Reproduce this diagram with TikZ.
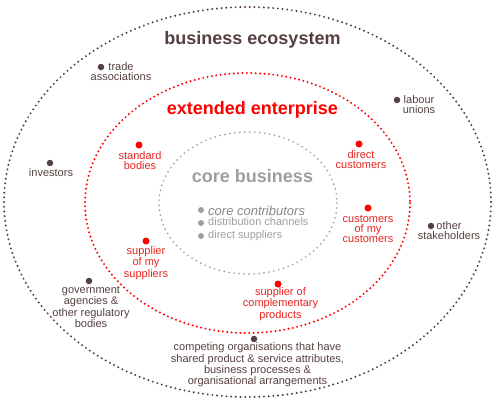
\documentclass[tikz,border=0pt]{standalone}
\usepackage{fontspec}
\setmainfont{Liberation Sans}
\usepackage{tikz}
\usetikzlibrary{positioning}
\definecolor{ecobrown}{HTML}{55403F}
\definecolor{extred}{HTML}{FF0000}
\definecolor{extpink}{HTML}{E8231E}
\definecolor{coregrey}{HTML}{9E9E9E}

\begin{document}
\begin{tikzpicture}[x=1pt, y=-1pt,
  ring/.style={dash pattern=on 0pt off 4.7pt, line cap=round, line width=2.2pt},
  ringtitle/.style={font=\fontsize{18}{20}\selectfont\bfseries, inner sep=0pt},
  ecodot/.style={circle, fill=ecobrown, inner sep=0pt, minimum size=6.5pt},
  extdot/.style={circle, fill=extred, inner sep=0pt, minimum size=7pt},
  coredot/.style={circle, fill=coregrey, inner sep=0pt, minimum size=6pt},
  ecolabel/.style={text=ecobrown, align=center, inner sep=0pt, font=\fontsize{11}{10}\selectfont},
  extlabel/.style={text=extpink, align=center, inner sep=0pt, font=\fontsize{11}{10}\selectfont},
  corelabel/.style={text=coregrey, anchor=west, inner sep=0pt, font=\fontsize{11}{10}\selectfont}]
\useasboundingbox (0,0) rectangle (498,407);
%% the three rings
\draw[ring, ecobrown] (247.5,202) ellipse [x radius=243.5, y radius=195];
\draw[ring, extred, dash pattern=on 0pt off 4.4pt] (247.5,203) ellipse [x radius=162.5, y radius=130];
\draw[ring, coregrey, dash pattern=on 0pt off 5pt, line width=1.9pt] (248,203) ellipse [x radius=89, y radius=71];

\node[ringtitle, text=ecobrown] (eco) at (252.5,40) {business ecosystem};
\node[ringtitle, text=extred] (ext) at (252.5,110) {extended enterprise};
\node[ringtitle, text=coregrey] (core) at (252.5,176) {core business};

%% business ecosystem
\node[ecodot] (trade) at (101,67) {};
\node[ecolabel] (tradetxt) at (121,71.5) {trade\\associations};
\node[ecodot] (labour) at (397,100) {};
\node[ecolabel] (labourtxt) at (419,105) {labour\\unions};
\node[ecodot] (invest) at (50,163) {};
\node[ecolabel] (investtxt) at (51,173) {investors};
\node[ecodot] (other) at (431,226) {};
\node[ecolabel] (othertxt) at (449,231) {other\\stakeholders};
\node[ecodot] (gov) at (89,281) {};
\node[ecolabel] (govtxt) at (91,307) {government\\agencies \&\\other regulatory\\bodies};
\node[ecodot] (comp) at (254,339) {};
\node[ecolabel] (comptxt) at (257.5,365) {competing organisations that have\\shared product \& service attributes,\\business processes \&\\organisational arrangements};

%% extended enterprise
\node[extdot] (std) at (139,145) {};
\node[extlabel] (stdtxt) at (140,161) {standard\\bodies};
\node[extdot] (direct) at (359,144) {};
\node[extlabel] (directtxt) at (361,160) {direct\\customers};
\node[extdot] (cust) at (368,208) {};
\node[extlabel] (custtxt) at (368,229) {customers\\of my\\customers};
\node[extdot] (supp) at (146,241) {};
\node[extlabel] (supptxt) at (146,263) {supplier\\of my\\suppliers};
\node[extdot] (compl) at (278,284) {};
\node[extlabel] (compltxt) at (280.5,304) {supplier of\\complementary\\products};

%% core business
\node[coredot] (contrib) at (201,210) {};
\node[corelabel, text=coregrey!85!black, font=\fontsize{13}{13}\selectfont\itshape] (contribtxt) at (208,211) {core contributors};
\node[coredot] (distrib) at (201,223) {};
\node[corelabel] (distribtxt) at (208,222) {distribution channels};
\node[coredot] (dirsupp) at (201,236) {};
\node[corelabel] (dirsupptxt) at (208,236) {direct suppliers};
\end{tikzpicture}
\end{document}
